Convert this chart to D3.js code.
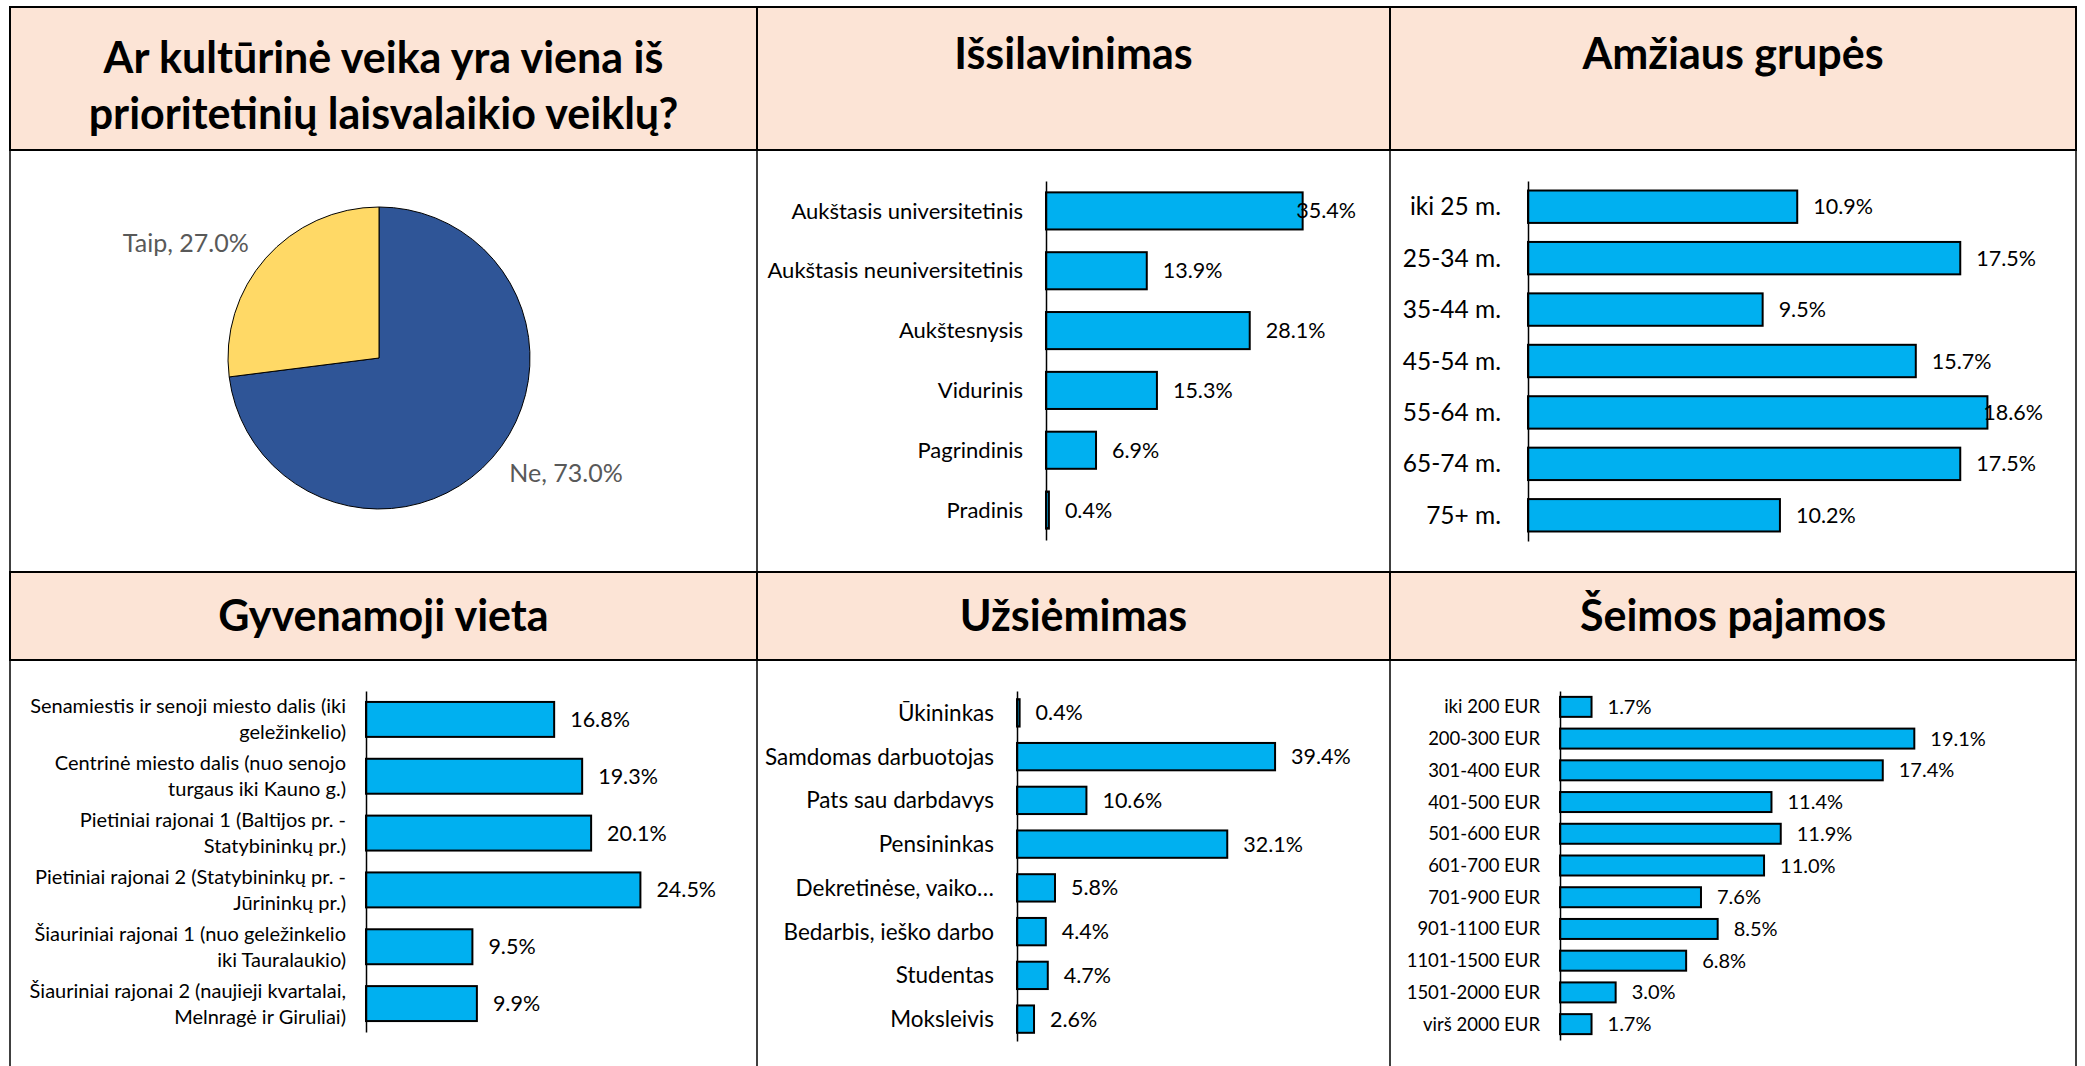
<!DOCTYPE html>
<html><head><meta charset="utf-8">
<script src="https://cdn.jsdelivr.net/npm/d3@7"></script>
<style>
html,body{margin:0;padding:0;background:#fff;}
svg{display:block;font-family:Lato,"Open Sans",sans-serif;}
</style></head>
<body>
<script>
// ---------- DATA ----------
const pieLabels = ["Ne", "Taip"];
const pieValues = [73.0, 27.0];

const eduCats = ["Aukštasis universitetinis", "Aukštasis neuniversitetinis", "Aukštesnysis", "Vidurinis", "Pagrindinis", "Pradinis"];
const eduVals = [35.4, 13.9, 28.1, 15.3, 6.9, 0.4];

const ageCats = ["iki 25 m.", "25-34 m.", "35-44 m.", "45-54 m.", "55-64 m.", "65-74 m.", "75+ m."];
const ageVals = [10.9, 17.5, 9.5, 15.7, 18.6, 17.5, 10.2];

const placeCats = [
  ["Senamiestis ir senoji miesto dalis (iki", "geležinkelio)"],
  ["Centrinė miesto dalis (nuo senojo", "turgaus iki Kauno g.)"],
  ["Pietiniai rajonai 1 (Baltijos pr. -", "Statybininkų pr.)"],
  ["Pietiniai rajonai 2 (Statybininkų pr. -", "Jūrininkų pr.)"],
  ["Šiauriniai rajonai 1 (nuo geležinkelio", "iki Tauralaukio)"],
  ["Šiauriniai rajonai 2 (naujieji kvartalai,", "Melnragė ir Giruliai)"]
];
const placeVals = [16.8, 19.3, 20.1, 24.5, 9.5, 9.9];

const jobCats = ["Ūkininkas", "Samdomas darbuotojas", "Pats sau darbdavys", "Pensininkas", "Dekretinėse, vaiko…", "Bedarbis, ieško darbo", "Studentas", "Moksleivis"];
const jobVals = [0.4, 39.4, 10.6, 32.1, 5.8, 4.4, 4.7, 2.6];

const incomeCats = ["iki 200 EUR", "200-300 EUR", "301-400 EUR", "401-500 EUR", "501-600 EUR", "601-700 EUR", "701-900 EUR", "901-1100 EUR", "1101-1500 EUR", "1501-2000 EUR", "virš 2000 EUR"];
const incomeVals = [1.7, 19.1, 17.4, 11.4, 11.9, 11.0, 7.6, 8.5, 6.8, 3.0, 1.7];

const titles = [
  ["Ar kultūrinė veika yra viena iš", "prioritetinių laisvalaikio veiklų?"],
  ["Išsilavinimas"], ["Amžiaus grupės"],
  ["Gyvenamoji vieta"], ["Užsiėmimas"], ["Šeimos pajamos"]
];

// ---------- LAYOUT ----------
const W = 2085, H = 1066;
const colX = [10, 757, 1390, 2076];
const rowHead = [[7, 150], [572, 660]];
const HEAD_FILL = "#FCE4D6", BAR = "#00B0F0";

const svg = d3.select("body").append("svg").attr("width", W).attr("height", H);
svg.append("rect").attr("width", W).attr("height", H).attr("fill", "#fff");

const fmt = v => v.toFixed(1) + "%";

// grid: content vertical lines
const grid = svg.append("g");
[[150, 572], [660, H]].forEach(([y0, y1]) => {
  colX.forEach(x => grid.append("line").attr("x1", x).attr("x2", x).attr("y1", y0).attr("y2", y1)
    .attr("stroke", "#000").attr("stroke-width", 1.5));
});
// headers
rowHead.forEach(([y0, y1], r) => {
  for (let c = 0; c < 3; c++) {
    const x0 = colX[c], x1 = colX[c + 1];
    grid.append("rect").attr("x", x0).attr("y", y0).attr("width", x1 - x0).attr("height", y1 - y0)
      .attr("fill", HEAD_FILL).attr("stroke", "#000").attr("stroke-width", 2);
    const lines = titles[r * 3 + c];
    const t = grid.append("text").attr("text-anchor", "middle").attr("font-weight", 700)
      .attr("font-size", 43).attr("fill", "#000");
    lines.forEach((ln, i) => t.append("tspan").attr("x", (x0 + x1) / 2)
      .attr("y", y0 + (r === 0 ? (lines.length > 1 ? 66 : 62) : 59) + i * 56).text(ln));
  }
});

// ---------- PIE ----------
(function () {
  const cx = 379, cy = 358, r = 151;
  const g = svg.append("g").attr("transform", `translate(${cx},${cy})`);
  const pie = d3.pie().sort(null).value(d => d)(pieValues);
  const arc = d3.arc().innerRadius(0).outerRadius(r);
  const colors = ["#2F5597", "#FFD966"];
  g.selectAll("path").data(pie).join("path").attr("d", arc)
    .attr("fill", (d, i) => colors[i]).attr("stroke", "#000").attr("stroke-width", 1);
  const lab = d3.arc().innerRadius(r * 1.15).outerRadius(r * 1.15);
  g.selectAll("text").data(pie).join("text")
    .attr("transform", d => { const [x, y] = lab.centroid(d); return `translate(${x},${y})`; })
    .attr("text-anchor", d => lab.centroid(d)[0] < 0 ? "end" : "start")
    .attr("dy", "0.35em").attr("font-size", 25).attr("fill", "#595959")
    .text((d, i) => `${pieLabels[i]}, ${fmt(pieValues[i])}`);
})();

// ---------- BAR CHART ----------
function barChart(o) {
  const x = d3.scaleLinear().domain([0, o.max]).range([o.x0, o.x1]);
  const y = d3.scaleBand().domain(o.cats.map((d, i) => i)).range([o.y0, o.y1])
    .paddingInner(o.pad).paddingOuter(o.pad / 2);
  const g = svg.append("g");
  g.selectAll("rect").data(o.vals).join("rect")
    .attr("x", x(0)).attr("y", (d, i) => y(i)).attr("width", d => x(d) - x(0))
    .attr("height", y.bandwidth()).attr("fill", BAR).attr("stroke", "#000").attr("stroke-width", 2);
  const ax = g.append("g").attr("transform", `translate(${x(0)},0)`)
    .call(d3.axisLeft(y).tickSize(0).tickSizeOuter(0).tickPadding(o.gap).tickFormat(() => ""));
  ax.select(".domain").attr("stroke", "#000").attr("stroke-width", 1.5);
  ax.selectAll(".tick text").remove();
  const cl = g.append("g").attr("font-size", o.catSize).attr("fill", "#000").attr("text-anchor", "end");
  o.cats.forEach((c, i) => {
    const lines = Array.isArray(c) ? c : [c];
    const t = cl.append("text");
    const lh = o.catSize * 1.3;
    lines.forEach((ln, k) => t.append("tspan").attr("x", x(0) - o.gap)
      .attr("y", y(i) + y.bandwidth() / 2 + (k - (lines.length - 1) / 2) * lh)
      .attr("dy", "0.35em").text(ln));
  });
  const vl = g.append("g").attr("font-size", o.valSize).attr("fill", "#000");
  o.vals.forEach((v, i) => {
    const t = vl.append("text").attr("y", y(i) + y.bandwidth() / 2).attr("dy", "0.35em").text(fmt(v));
    const w = t.node().getComputedTextLength();
    t.attr("x", Math.min(x(v) + 16, o.limit - w));
  });
}

barChart({ cats: eduCats, vals: eduVals, max: 40, x0: 1046, x1: 1336, y0: 181, y1: 540, pad: 0.38,
  gap: 23, catSize: 22, valSize: 21.5, limit: 1356 });
barChart({ cats: ageCats, vals: ageVals, max: 20, x0: 1528, x1: 2022, y0: 181, y1: 541, pad: 0.37,
  gap: 27, catSize: 24.5, valSize: 21.5, limit: 2043 });
barChart({ cats: placeCats, vals: placeVals, max: 25, x0: 366, x1: 646, y0: 691, y1: 1032, pad: 0.385,
  gap: 20, catSize: 20, valSize: 21.5, limit: 740 });
barChart({ cats: jobCats, vals: jobVals, max: 40, x0: 1017, x1: 1279, y0: 691, y1: 1041, pad: 0.375,
  gap: 23, catSize: 22.5, valSize: 21.5, limit: 1380 });
barChart({ cats: incomeCats, vals: incomeVals, max: 20, x0: 1560, x1: 1931, y0: 691, y1: 1040, pad: 0.37,
  gap: 20, catSize: 18.5, valSize: 20, limit: 2060 });
</script>
</body></html>
